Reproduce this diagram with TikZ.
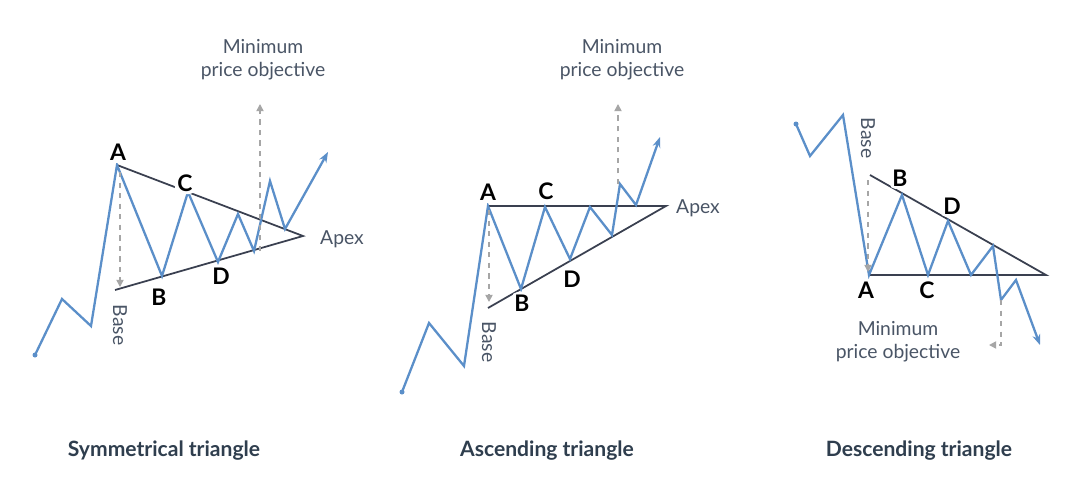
\documentclass[tikz,border=0pt]{standalone}
\usepackage{fontspec}
\setmainfont{Lato}
\usetikzlibrary{arrows.meta}
\definecolor{price}{HTML}{5B8FC9}
\definecolor{bound}{HTML}{3A4050}
\definecolor{note}{HTML}{4A5566}
\definecolor{title}{HTML}{2F3E4E}
\tikzset{
  pricepath/.style={price, line width=1.3pt, line join=miter, -{Stealth[length=6pt]}},
  boundline/.style={bound, line width=1pt},
  measure/.style={gray!70, dashed, line width=0.9pt, -{Triangle[length=4pt,width=4pt]}},
  point/.style={font=\bfseries\fontsize{13}{13}\selectfont, fill=white, rounded corners=3pt, inner sep=1.5pt, drop shadow/.style={}},
  notetext/.style={note, font=\fontsize{11}{13}\selectfont, align=center},
  titletext/.style={title, font=\bfseries\fontsize{12}{14}\selectfont}
}
\begin{document}
\begin{tikzpicture}[x=0.02cm, y=-0.02cm]
  \useasboundingbox[fill=white] (0,0) rectangle (1073,480);
  % symmetrical
  \coordinate (sA) at (117,165); \coordinate (sApex) at (303,236); \coordinate (sLow) at (115,290);
  \draw[boundline] (sA) -- (sApex) -- (sLow);
  \fill[price] (35,355) circle (2.5);
  \draw[pricepath] (35,355) -- (62,299) -- (91,326) -- (sA) -- (162,276) -- (188,192) -- (218,262)
    -- (238,214) -- (254,251) -- (270,181) -- (285,229) -- (328,152);
  \draw[measure] (120,172) -- (120,287);
  \draw[measure] (260,251) -- (260,104);
  \node[note, font=\fontsize{11}{13}\selectfont, rotate=-90] (sBase) at (120,325) {Base};
  \node[notetext] (sMin) at (263,60) {Minimum\\price objective};
  \node[note, font=\fontsize{11}{13}\selectfont, anchor=west] (sApexL) at (314,239) {Apex};
  \node[point] (sLA) at (118,152) {A};
  \node[point] (sLB) at (159,297) {B};
  \node[point] (sLC) at (185,183) {C};
  \node[point] (sLD) at (221,276) {D};
  \node[titletext] (sT) at (164,451) {Symmetrical triangle};
  % ascending
  \coordinate (aA) at (488,206); \coordinate (aApex) at (666,206); \coordinate (aLow) at (488,308);
  \draw[boundline] (aA) -- (aApex) -- (aLow);
  \fill[price] (402,392) circle (2.5);
  \draw[pricepath] (402,392) -- (429,323) -- (464,366) -- (aA) -- (521,289) -- (545,207) -- (570,259)
    -- (590,207) -- (612,235) -- (620,184) -- (636,205) -- (660,137);
  \draw[measure] (489,210) -- (489,302);
  \draw[measure] (618,184) -- (618,104);
  \node[note, font=\fontsize{11}{13}\selectfont, rotate=-90] (aBase) at (489,342) {Base};
  \node[notetext] (aMin) at (622,60) {Minimum\\price objective};
  \node[note, font=\fontsize{11}{13}\selectfont, anchor=west] (aApexL) at (670,208) {Apex};
  \node[point] (aLA) at (488,192) {A};
  \node[point] (aLB) at (522,303) {B};
  \node[point] (aLC) at (546,191) {C};
  \node[point] (aLD) at (572,279) {D};
  \node[titletext] (aT) at (547,451) {Ascending triangle};
  % descending
  \coordinate (dA) at (869,275); \coordinate (dApex) at (1046,275); \coordinate (dHigh) at (870,175);
  \draw[boundline] (dA) -- (dApex) -- (dHigh);
  \fill[price] (796,124) circle (2.5);
  \draw[pricepath] (796,124) -- (810,156) -- (843,115) -- (dA) -- (902,195) -- (928,275) -- (948,221)
    -- (971,275) -- (993,246) -- (1001,300) -- (1016,280) -- (1040,345);
  \draw[measure] (868,180) -- (868,272);
  \draw[measure] (1001,300) -- (1001,345) -- (989,345);
  \node[note, font=\fontsize{11}{13}\selectfont, rotate=-90] (dBase) at (868,138) {Base};
  \node[notetext] (dMin) at (898,342) {Minimum\\price objective};
  \node[point] (dLA) at (866,290) {A};
  \node[point] (dLB) at (900,178) {B};
  \node[point] (dLC) at (927,290) {C};
  \node[point] (dLD) at (952,206) {D};
  \node[titletext] (dT) at (919,451) {Descending triangle};
\end{tikzpicture}
\end{document}
